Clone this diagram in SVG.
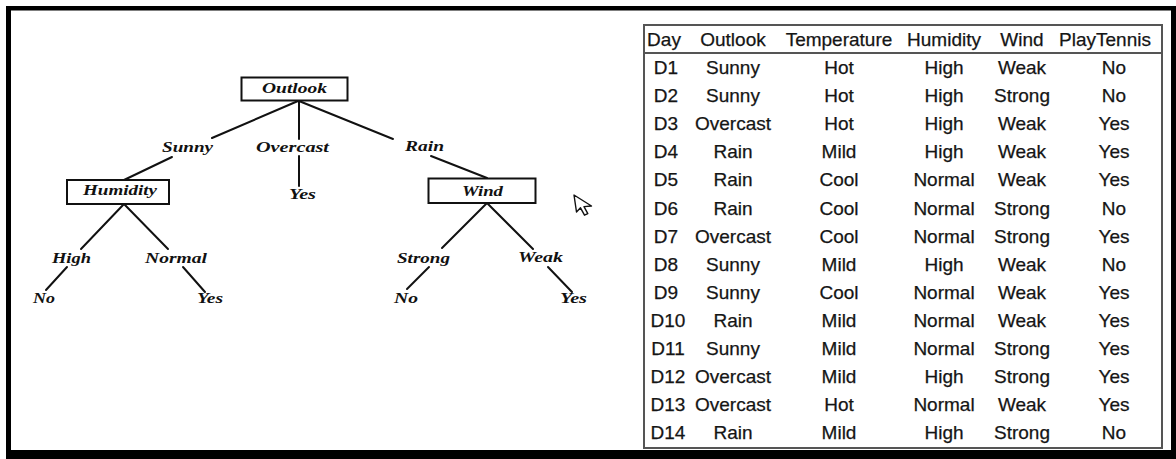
<svg xmlns="http://www.w3.org/2000/svg" width="1176" height="459" viewBox="0 0 1176 459">
<style>
.t{font-family:"Liberation Serif","Times New Roman",serif;font-weight:bold;font-style:italic;font-size:15px;fill:#111}
.box{fill:#fff;stroke:#111;stroke-width:2}
.ln{stroke:#111;stroke-width:2;fill:none;stroke-linecap:round}
.tb{font-family:"Liberation Sans",Arial,sans-serif;font-size:19px;fill:#151515;stroke:#151515;stroke-width:0.25;text-anchor:middle}
.frame{fill:#000}
.grid{stroke:#555;stroke-width:2;fill:none}
</style>
<rect width="1176" height="459" fill="#fff"/>
<!-- outer frame -->
<g id="frame">
<rect class="frame" x="6" y="6" width="1170" height="4.5"/>
<rect class="frame" x="6" y="6" width="5" height="453"/>
<rect class="frame" x="1171" y="6" width="5" height="453"/>
<rect class="frame" x="6" y="450" width="1170" height="9"/>
</g>
<!-- connectors -->
<g id="connectors">
<line class="ln" x1="298" y1="101" x2="212" y2="138"/>
<line class="ln" x1="299" y1="101" x2="299" y2="139"/>
<line class="ln" x1="299" y1="101" x2="393" y2="139"/>
<line class="ln" x1="172" y1="157" x2="124" y2="180"/>
<line class="ln" x1="299" y1="156" x2="299" y2="186"/>
<line class="ln" x1="431" y1="156" x2="487" y2="178"/>
<line class="ln" x1="124" y1="204" x2="81" y2="249"/>
<line class="ln" x1="124" y1="204" x2="168" y2="249"/>
<line class="ln" x1="67" y1="267" x2="46" y2="290"/>
<line class="ln" x1="183" y1="267" x2="205" y2="292"/>
<line class="ln" x1="487" y1="203" x2="442" y2="248"/>
<line class="ln" x1="487" y1="203" x2="533" y2="249"/>
<line class="ln" x1="429" y1="267" x2="407" y2="289"/>
<line class="ln" x1="548" y1="267" x2="572" y2="292"/>
</g>
<!-- nodes -->
<g id="node-outlook">
<rect class="box" x="241.5" y="77.5" width="106" height="23"/>
<text class="t" x="262" y="93" textLength="65" lengthAdjust="spacingAndGlyphs">Outlook</text>
</g>
<g id="node-humidity">
<rect class="box" x="67" y="180" width="102" height="24"/>
<text class="t" x="83" y="195" textLength="74" lengthAdjust="spacingAndGlyphs">Humidity</text>
</g>
<g id="node-wind">
<rect class="box" x="428.5" y="178.5" width="107" height="24.5"/>
<text class="t" x="462" y="196" textLength="41" lengthAdjust="spacingAndGlyphs">Wind</text>
</g>
<g id="labels">
<text class="t" x="162" y="152" textLength="51" lengthAdjust="spacingAndGlyphs">Sunny</text>
<text class="t" x="256" y="152" textLength="73" lengthAdjust="spacingAndGlyphs">Overcast</text>
<text class="t" x="405" y="151" textLength="39" lengthAdjust="spacingAndGlyphs">Rain</text>
<text class="t" x="52" y="263" textLength="39" lengthAdjust="spacingAndGlyphs">High</text>
<text class="t" x="145" y="263" textLength="62" lengthAdjust="spacingAndGlyphs">Normal</text>
<text class="t" x="397" y="263" textLength="53" lengthAdjust="spacingAndGlyphs">Strong</text>
<text class="t" x="518" y="262" textLength="45" lengthAdjust="spacingAndGlyphs">Weak</text>
</g>
<g id="leaf-overcast-yes"><text class="t" x="289" y="199" textLength="27" lengthAdjust="spacingAndGlyphs">Yes</text></g>
<g id="leaf-high-no"><text class="t" x="33" y="303" textLength="22" lengthAdjust="spacingAndGlyphs">No</text></g>
<g id="leaf-normal-yes"><text class="t" x="197" y="303" textLength="26" lengthAdjust="spacingAndGlyphs">Yes</text></g>
<g id="leaf-strong-no"><text class="t" x="394" y="303" textLength="24" lengthAdjust="spacingAndGlyphs">No</text></g>
<g id="leaf-weak-yes"><text class="t" x="560" y="303" textLength="27" lengthAdjust="spacingAndGlyphs">Yes</text></g>
<!-- cursor -->
<g id="cursor">
<path d="M574,195 L576.5,212 L580.5,207.8 L584.5,215.2 L587.8,213.6 L584,206.6 L591.5,206 Z" fill="#fff" stroke="#111" stroke-width="1.4" stroke-linejoin="round"/>
</g>
<!-- table -->
<g id="table">
<rect class="grid" x="644" y="25" width="518" height="423"/>
<line class="grid" x1="644" y1="53" x2="1162" y2="53"/>
<g id="header">
<text class="tb" x="664" y="46">Day</text>
<text class="tb" x="733" y="46">Outlook</text>
<text class="tb" x="839" y="46">Temperature</text>
<text class="tb" x="944" y="46">Humidity</text>
<text class="tb" x="1022" y="46">Wind</text>
<text class="tb" x="1105" y="46">PlayTennis</text>
</g>
<g id="rows">
<text class="tb" x="666" y="74">D1</text><text class="tb" x="733" y="74">Sunny</text><text class="tb" x="839" y="74">Hot</text><text class="tb" x="944" y="74">High</text><text class="tb" x="1022" y="74">Weak</text><text class="tb" x="1114" y="74">No</text>
<text class="tb" x="666" y="102.1">D2</text><text class="tb" x="733" y="102.1">Sunny</text><text class="tb" x="839" y="102.1">Hot</text><text class="tb" x="944" y="102.1">High</text><text class="tb" x="1022" y="102.1">Strong</text><text class="tb" x="1114" y="102.1">No</text>
<text class="tb" x="666" y="130.2">D3</text><text class="tb" x="733" y="130.2">Overcast</text><text class="tb" x="839" y="130.2">Hot</text><text class="tb" x="944" y="130.2">High</text><text class="tb" x="1022" y="130.2">Weak</text><text class="tb" x="1114" y="130.2">Yes</text>
<text class="tb" x="666" y="158.3">D4</text><text class="tb" x="733" y="158.3">Rain</text><text class="tb" x="839" y="158.3">Mild</text><text class="tb" x="944" y="158.3">High</text><text class="tb" x="1022" y="158.3">Weak</text><text class="tb" x="1114" y="158.3">Yes</text>
<text class="tb" x="666" y="186.4">D5</text><text class="tb" x="733" y="186.4">Rain</text><text class="tb" x="839" y="186.4">Cool</text><text class="tb" x="944" y="186.4">Normal</text><text class="tb" x="1022" y="186.4">Weak</text><text class="tb" x="1114" y="186.4">Yes</text>
<text class="tb" x="666" y="214.5">D6</text><text class="tb" x="733" y="214.5">Rain</text><text class="tb" x="839" y="214.5">Cool</text><text class="tb" x="944" y="214.5">Normal</text><text class="tb" x="1022" y="214.5">Strong</text><text class="tb" x="1114" y="214.5">No</text>
<text class="tb" x="666" y="242.6">D7</text><text class="tb" x="733" y="242.6">Overcast</text><text class="tb" x="839" y="242.6">Cool</text><text class="tb" x="944" y="242.6">Normal</text><text class="tb" x="1022" y="242.6">Strong</text><text class="tb" x="1114" y="242.6">Yes</text>
<text class="tb" x="666" y="270.7">D8</text><text class="tb" x="733" y="270.7">Sunny</text><text class="tb" x="839" y="270.7">Mild</text><text class="tb" x="944" y="270.7">High</text><text class="tb" x="1022" y="270.7">Weak</text><text class="tb" x="1114" y="270.7">No</text>
<text class="tb" x="666" y="298.8">D9</text><text class="tb" x="733" y="298.8">Sunny</text><text class="tb" x="839" y="298.8">Cool</text><text class="tb" x="944" y="298.8">Normal</text><text class="tb" x="1022" y="298.8">Weak</text><text class="tb" x="1114" y="298.8">Yes</text>
<text class="tb" x="668" y="326.9">D10</text><text class="tb" x="733" y="326.9">Rain</text><text class="tb" x="839" y="326.9">Mild</text><text class="tb" x="944" y="326.9">Normal</text><text class="tb" x="1022" y="326.9">Weak</text><text class="tb" x="1114" y="326.9">Yes</text>
<text class="tb" x="668" y="355">D11</text><text class="tb" x="733" y="355">Sunny</text><text class="tb" x="839" y="355">Mild</text><text class="tb" x="944" y="355">Normal</text><text class="tb" x="1022" y="355">Strong</text><text class="tb" x="1114" y="355">Yes</text>
<text class="tb" x="668" y="383.1">D12</text><text class="tb" x="733" y="383.1">Overcast</text><text class="tb" x="839" y="383.1">Mild</text><text class="tb" x="944" y="383.1">High</text><text class="tb" x="1022" y="383.1">Strong</text><text class="tb" x="1114" y="383.1">Yes</text>
<text class="tb" x="668" y="411.2">D13</text><text class="tb" x="733" y="411.2">Overcast</text><text class="tb" x="839" y="411.2">Hot</text><text class="tb" x="944" y="411.2">Normal</text><text class="tb" x="1022" y="411.2">Weak</text><text class="tb" x="1114" y="411.2">Yes</text>
<text class="tb" x="668" y="439.3">D14</text><text class="tb" x="733" y="439.3">Rain</text><text class="tb" x="839" y="439.3">Mild</text><text class="tb" x="944" y="439.3">High</text><text class="tb" x="1022" y="439.3">Strong</text><text class="tb" x="1114" y="439.3">No</text>
</g>
</g>
</svg>
